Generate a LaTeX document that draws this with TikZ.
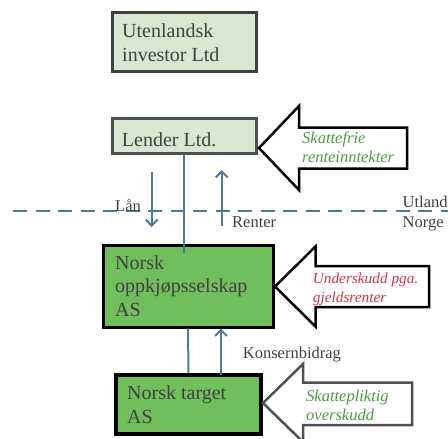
\documentclass[tikz,border=0pt]{standalone}
\usepackage{fontspec}
\setmainfont{Liberation Serif}
\usetikzlibrary{arrows.meta}

\definecolor{paleGreen}{HTML}{D6E9D0}
\definecolor{midGreen}{HTML}{71BF5C}
\definecolor{boxText}{HTML}{404040}
\definecolor{flowBlue}{HTML}{4B7B96}
\definecolor{noteGreen}{HTML}{4F9A45}
\definecolor{noteRed}{HTML}{D0374A}
\definecolor{darkFrame}{HTML}{3F3F3F}
\definecolor{greyFrame}{HTML}{505050}

% multi-line labels are placed by the baseline of their last line
\tikzset{
  lightbox/.style={draw=darkFrame, line width=3pt, fill=paleGreen, rectangle, inner sep=0pt},
  greenbox/.style={draw=black, line width=3pt, fill=midGreen, rectangle, inner sep=0pt},
  boxlabel/.style={anchor=base west, inner sep=0pt, align=left, text=boxText,
                   font=\fontsize{20}{23.5}\selectfont},
  smalllabel/.style={anchor=base west, inner sep=0pt, text=boxText,
                     font=\fontsize{16.5}{19}\selectfont},
  notelabel/.style={anchor=base west, inner sep=0pt, align=left,
                    font=\itshape\fontsize{16.5}{19}\selectfont},
  flow/.style={draw=flowBlue, line width=2pt},
  flowtip/.style={flow, -{Straight Barb[length=6pt, width=12pt, line width=2pt]}},
  borderline/.style={draw=flowBlue, line width=2pt, dash pattern=on 14pt off 8.5pt},
  callout/.style={fill=white, line width=2.5pt, line join=miter},
}

\begin{document}
\begin{tikzpicture}[x=1pt, y=-1pt]
\useasboundingbox (0,0) rectangle (448,439);
\clip (0,0) rectangle (448,439);

% boundary between abroad and Norway
\coordinate (borderW) at (13,211);
\coordinate (borderE) at (448,211);
\draw[borderline] (borderW) -- (borderE);

% companies
\node[lightbox, minimum width=144pt, minimum height=59pt] (investor) at (184,41.5) {};
\node[lightbox, draw=greyFrame, minimum width=144pt, minimum height=35pt] (lender) at (184,135.5) {};
\node[greenbox, minimum width=170pt, minimum height=82pt] (acq) at (188,286) {};
\node[greenbox, line width=3.5pt, minimum width=145pt, minimum height=59pt] (target) at (188.5,404.5) {};

\node[boxlabel] (investorText) at (122,61) {Utenlandsk\\investor Ltd};
\node[boxlabel] (lenderText) at (121.7,146) {Lender Ltd.};
\node[boxlabel] (acqText) at (115,316) {Norsk\\oppkjøpsselskap\\AS};
\node[boxlabel] (targetText) at (127,423) {Norsk target\\AS};

% loan and interest flows
\coordinate (lanTop) at (151.7,172);
\coordinate (lanEnd) at (151.7,227);
\draw[flowtip] (lanTop) -- (lanEnd);
\coordinate (renterFoot) at (221.7,226);
\coordinate (renterTip) at (221.7,170);
\draw[flowtip] (renterFoot) -- (renterTip);
\coordinate (ownEnd) at (184,253);
\draw[flow] (lender.south) -- (ownEnd);

% group contribution
\draw[flow] (acq.south) -- (target.north);
\coordinate (kbFoot) at (221,375);
\draw[flowtip] (kbFoot) -- (kbFoot |- acq.south);

\node[smalllabel] (lanText) at (115,211) {Lån};
\node[smalllabel] (renterText) at (232,227) {Renter};
\node[smalllabel] (utlandText) at (402.5,207) {Utland};
\node[smalllabel] (norgeText) at (402.5,227) {Norge};
\node[smalllabel] (kbText) at (242.7,358) {Konsernbidrag};

% tax effect callouts
\draw[callout, draw=black] (259,148) -- (299,106) -- (299,127.5) -- (407,127.5)
  -- (407,168.5) -- (299,168.5) -- (299,190) -- cycle;
\node[notelabel, text=noteGreen] (taxFree) at (302,162) {Skattefrie\\renteinntekter};

\draw[callout, draw=black] (275,286.5) -- (315.5,246.5) -- (315.5,266) -- (429,266)
  -- (429,307) -- (315.5,307) -- (315.5,326.5) -- cycle;
\node[notelabel, text=noteRed, font=\itshape\fontsize{15.3}{19}\selectfont]
  (deficit) at (312.7,302) {Underskudd pga.\\gjeldsrenter};

\draw[callout, draw=greyFrame] (263,403) -- (303,364) -- (303,382.5) -- (412,382.5)
  -- (412,425) -- (303,425) -- (303,442) -- cycle;
\node[notelabel, text=noteGreen] (taxable) at (306,420) {Skattepliktig\\overskudd};
\end{tikzpicture}
\end{document}
